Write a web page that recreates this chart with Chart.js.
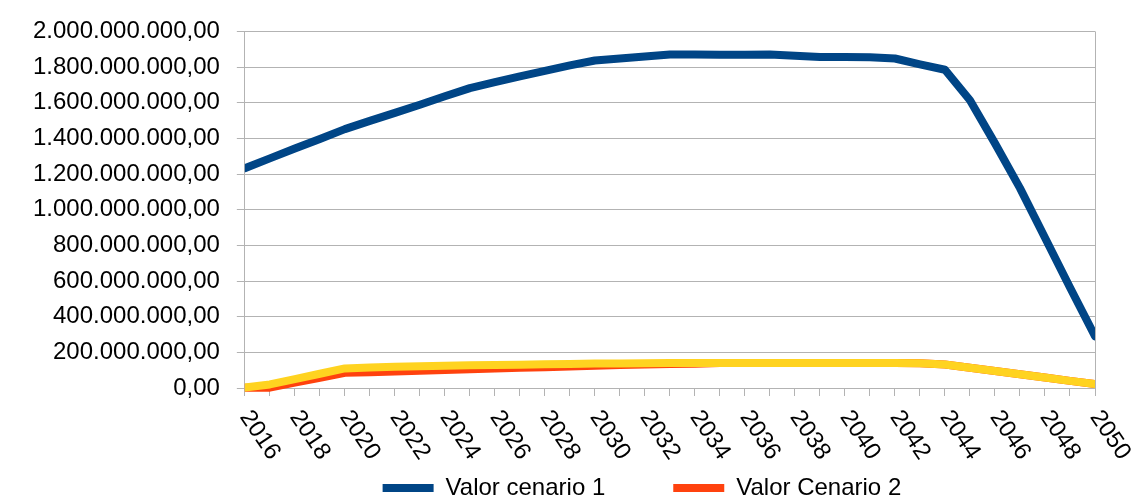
<!DOCTYPE html>
<html>
<head>
<meta charset="utf-8">
<title>Valor cenarios</title>
<script src="https://cdn.jsdelivr.net/npm/chart.js@4/dist/chart.umd.min.js"></script>
<style>
  html, body { margin: 0; padding: 0; background: #fff; }
  #wrap { width: 1133px; height: 498px; }
</style>
</head>
<body>
<div id="wrap"><canvas id="chart"></canvas></div>
<script>
// ---------- data ----------
const years = [
  "2016", "2017", "2018", "2019", "2020", "2021", "2022", "2023", "2024",
  "2025", "2026", "2027", "2028", "2029", "2030", "2031", "2032", "2033",
  "2034", "2035", "2036", "2037", "2038", "2039", "2040", "2041", "2042",
  "2043", "2044", "2045", "2046", "2047", "2048", "2049", "2050",
];
const tickLabels = [
  "2016", "2018", "2020", "2022", "2024", "2026", "2028", "2030", "2032",
  "2034", "2036", "2038", "2040", "2042", "2044", "2046", "2048", "2050",
];
const yTicks = [0, 200e6, 400e6, 600e6, 800e6, 1000e6, 1200e6, 1400e6, 1600e6, 1800e6, 2000e6];

const cenario1 = [
  1233e6, 1288e6, 1343e6, 1397e6, 1452e6, 1498e6, 1543e6, 1589e6, 1636e6,
  1682e6, 1716e6, 1748e6, 1779e6, 1809e6, 1837e6, 1848e6, 1859e6, 1870e6,
  1871e6, 1869e6, 1869e6, 1870e6, 1863e6, 1857e6, 1857e6, 1855e6, 1848e6,
  1815e6, 1785e6, 1614e6, 1372e6, 1121e6, 843e6, 564e6, 290e6,
];
const cenario2 = [
  2e6, 2e6, 30e6, 57e6, 85e6, 89e6, 93e6, 97e6, 101e6,
  105e6, 109e6, 113e6, 117e6, 121e6, 125e6, 129e6, 132e6, 134e6,
  136e6, 140e6, 140e6, 140e6, 140e6, 140e6, 140e6, 140e6, 140e6,
  139e6, 132e6, 114e6, 95e6, 77e6, 59e6, 40e6, 22e6,
];
const cenario3 = [
  3e6, 20e6, 50e6, 80e6, 110e6, 115e6, 119e6, 122e6, 125e6,
  127e6, 129e6, 131e6, 133e6, 135e6, 137e6, 138e6, 139e6, 140e6,
  140e6, 140e6, 140e6, 140e6, 140e6, 140e6, 140e6, 140e6, 140e6,
  139e6, 132e6, 114e6, 95e6, 77e6, 59e6, 40e6, 22e6,
];

// ---------- helpers ----------
const FONT = "'Liberation Sans', Arial, sans-serif";
const GRID = "#b3b3b3";
const brl = (v) =>
  Math.round(v).toString().replace(/\B(?=(\d{3})+(?!\d))/g, ".") + ",00";

// rotated year labels (clockwise, starting at the tick)
const yearLabels = {
  id: "yearLabels",
  afterDraw(chart) {
    const { ctx } = chart;
    const x = chart.scales.x;
    ctx.save();
    ctx.font = "24px " + FONT;
    ctx.fillStyle = "#000";
    ctx.textAlign = "left";
    ctx.textBaseline = "middle";
    years.forEach((yr, i) => {
      if (!tickLabels.includes(yr)) return;
      ctx.save();
      ctx.translate(x.getPixelForValue(i), x.bottom + 17);
      ctx.rotate((56 * Math.PI) / 180);
      ctx.fillText(yr, 0, 0);
      ctx.restore();
    });
    ctx.restore();
  },
};

// nudge the legend row to where it sits in the original
const legendNudge = {
  id: "legendNudge",
  afterLayout(chart) {
    const lg = chart.legend;
    lg.left -= 28;
    lg.right -= 28;
    lg.top += 12;
    lg.bottom += 12;
  },
};

// ---------- chart ----------
Chart.defaults.font.family = FONT;
Chart.defaults.font.size = 24;
Chart.defaults.color = "#000";

const lineStyle = {
  borderWidth: 8,
  pointRadius: 0,
  tension: 0,
  borderCapStyle: "round",
  borderJoinStyle: "round",
  clip: { left: 0, right: 0, top: 10, bottom: 10 },
};

new Chart(document.getElementById("chart"), {
  type: "line",
  data: {
    labels: years,
    datasets: [
      { label: "Valor cenario 1", data: cenario1, borderColor: "#004586", backgroundColor: "#004586", ...lineStyle },
      { label: "Valor cenario 3", data: cenario3, borderColor: "#ffd320", backgroundColor: "#ffd320", ...lineStyle },
      { label: "Valor Cenario 2", data: cenario2, borderColor: "#ff420e", backgroundColor: "#ff420e", ...lineStyle },
    ],
  },
  options: {
    responsive: true,
    maintainAspectRatio: false,
    animation: false,
    events: [],
    layout: { padding: { left: 16, right: 38, top: 29, bottom: 0 } },
    plugins: {
      tooltip: { enabled: false },
      legend: {
        position: "bottom",
        fullSize: false,
        labels: {
          usePointStyle: true,
          pointStyle: "line",
          pointStyleWidth: 51,
          padding: 68,
          font: { size: 24 },
          filter: (item) => item.datasetIndex !== 1,
        },
      },
    },
    scales: {
      x: {
        offset: false,
        grid: {
          drawOnChartArea: true,
          color: (c) => (c.index === years.length - 1 ? GRID : "rgba(0,0,0,0)"),
          tickColor: GRID,
          tickLength: 8,
        },
        border: { color: GRID },
        ticks: { display: false },
      },
      y: {
        min: 0,
        max: 2000e6,
        afterBuildTicks: (axis) => {
          axis.ticks = yTicks.map((v) => ({ value: v }));
        },
        grid: { color: GRID, tickLength: 8 },
        border: { color: GRID },
        ticks: { padding: 17, callback: (v) => brl(v) },
      },
    },
  },
  plugins: [yearLabels, legendNudge],
});
</script>
</body>
</html>
